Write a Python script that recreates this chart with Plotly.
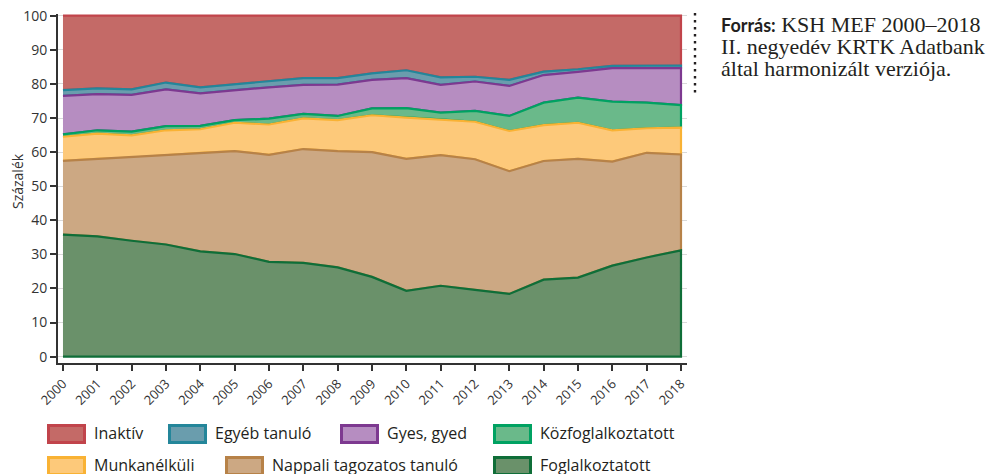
import numpy as np
import plotly.graph_objects as go

years = list(range(2000, 2019))

# stacked shares (percent), bottom to top
foglalkoztatott = [35.8,35.3,34.0,32.9,30.9,30.1,27.8,27.5,26.2,23.4,19.3,20.8,19.6,18.4,22.6,23.2,26.7,29.1,31.2]
nappali = [21.6,22.7,24.4,26.2,28.9,30.2,31.4,33.4,34.1,36.6,38.7,38.3,38.3,36.0,34.8,34.8,30.5,30.7,28.1]
munkanelkuli = [7.1,7.4,6.5,7.3,6.9,8.3,8.9,9.0,9.1,10.8,12.1,10.5,11.0,11.8,10.5,10.6,9.2,7.2,7.9]
kozfoglalkoztatott = [0.7,1.0,1.1,1.2,1.0,0.8,1.7,1.3,1.2,2.0,2.8,2.0,3.2,4.4,6.6,7.4,8.4,7.5,6.6]
gyes = [11.3,10.6,10.8,10.8,9.5,8.8,9.2,8.5,9.2,8.4,8.8,8.1,8.6,8.8,8.1,7.5,9.8,10.1,10.8]
egyeb = [1.7,1.7,1.6,2.0,1.8,1.7,1.9,2.0,1.9,1.9,2.3,2.2,1.4,1.8,1.0,0.8,0.7,0.8,0.8]
inaktiv = [21.8,21.3,21.6,19.6,21.0,20.1,19.1,18.3,18.3,16.9,16.0,18.1,17.9,18.8,16.4,15.7,14.7,14.6,14.6]

names = ["Foglalkoztatott", "Nappali tagozatos tanuló", "Munkanélküli",
         "Közfoglalkoztatott", "Gyes, gyed", "Egyéb tanuló", "Inaktív"]
series = [foglalkoztatott, nappali, munkanelkuli, kozfoglalkoztatott, gyes, egyeb, inaktiv]
fills = ["#6A916A", "#CCA883", "#FDC97A", "#6AB98A", "#B68DC1", "#6A9DAD", "#C46A67"]
lines = ["#0F6E38", "#B78248", "#F9B234", "#00A262", "#7D3990", "#24869A", "#C1444B"]

fig = go.Figure()

arr = np.array(series)
upper = np.cumsum(arr, axis=0)
lower = upper - arr

# draw top layer first so lower layers' outlines sit on top
for i in reversed(range(len(series))):
    xs = years + years[::-1]
    ys = list(upper[i]) + list(lower[i][::-1])
    fig.add_trace(go.Scatter(
        x=xs, y=ys, fill="toself", fillcolor=fills[i],
        line=dict(color=lines[i], width=2.2), mode="lines",
        name=names[i], hoverinfo="skip", showlegend=False))

# layout geometry: screen pixels; the page body adds an 8px offset
OFF = 8
W, H = 1001, 474
L, R, T, B = 58, 687, 14, 363  # plot area in screen pixels

def px(X):
    return (X - L) / (R - L)

def py(Y):
    return (B - Y) / (B - T)

shapes = []
annotations = []

# manual legend
legend_order = [6, 5, 4, 3, 2, 1, 0]
legend_pos = [(47, 434), (168, 434), (340, 434), (493, 434),
              (47, 466), (225, 466), (493, 466)]
for idx, (lx, ly) in zip(legend_order, legend_pos):
    shapes.append(dict(type="rect", xref="paper", yref="paper",
                       x0=px(lx + 1.5), x1=px(lx + 37.5),
                       y0=py(ly - 8.5), y1=py(ly + 8.5),
                       fillcolor=fills[idx], line=dict(color=lines[idx], width=3)))
    annotations.append(dict(xref="paper", yref="paper", x=px(lx + 45), y=py(ly - 1),
                            text=names[idx], showarrow=False, xanchor="left",
                            yanchor="middle",
                            font=dict(family="Open Sans", size=16, color="#231F20")))

# y-axis title
annotations.append(dict(xref="paper", yref="paper", x=px(17), y=py(181),
                        text="Százalék", showarrow=False, textangle=-90,
                        xanchor="center", yanchor="middle",
                        font=dict(family="Open Sans", size=14, color="#333333")))

# source note
shapes.append(dict(type="line", xref="paper", yref="paper",
                   x0=px(695), x1=px(695), y0=py(13), y1=py(96),
                   line=dict(color="#231F20", width=2.4, dash="2.4px,4.6px")))
src_lines = [
    '<span style="font-family:Lato;font-weight:bold;font-size:18px">Forrás:</span> KSH MEF 2000–2018',
    "II. negyedév KRTK Adatbank",
    "által harmonizált verziója.",
]
for k, t in enumerate(src_lines):
    annotations.append(dict(xref="paper", yref="paper", x=px(719), y=py(24 + 22 * k),
                            text=t, showarrow=False, xanchor="left", yanchor="middle",
                            font=dict(family="Liberation Serif", size=22, color="#231F20")))

fig.update_layout(
    width=W, height=H,
    margin=dict(l=L - OFF, r=W - (R - OFF), t=T - OFF, b=H - (B - OFF), pad=0,
                autoexpand=False),
    paper_bgcolor="white", plot_bgcolor="white",
    showlegend=False,
    shapes=shapes, annotations=annotations,
    font=dict(family="Open Sans", color="#333333"),
    xaxis=dict(range=[1999.855, 2018.175], tickmode="array", tickvals=years,
               ticktext=[str(y) for y in years], tickangle=-45, automargin=False,
               ticklabeloverflow="allow",
               ticks="outside", ticklen=6, tickwidth=2, tickcolor="#333333",
               showline=True, linecolor="#333333", linewidth=2,
               showgrid=False, zeroline=False,
               tickfont=dict(family="Open Sans", size=13, color="#333333")),
    yaxis=dict(range=[-1.85, 100.5], tickmode="array", tickvals=list(range(0, 101, 10)),
               automargin=False, ticklabeloverflow="allow",
               ticks="outside", ticklen=6, tickwidth=2, tickcolor="#333333",
               showline=True, linecolor="#333333", linewidth=2,
               showgrid=True, gridcolor="#D9D9D9", gridwidth=1, zeroline=False,
               tickfont=dict(family="Open Sans", size=14, color="#333333")),
)

fig.write_html("out.html")
